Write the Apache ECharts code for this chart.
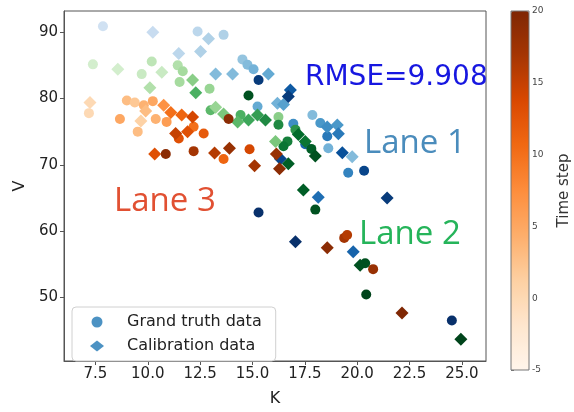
<!DOCTYPE html>
<html>
<head>
<meta charset="utf-8">
<script src="https://cdn.jsdelivr.net/npm/echarts@6/dist/echarts.min.js"></script>
<style>
  html, body { margin: 0; padding: 0; background: #ffffff; }
  #chart { width: 574px; height: 412px; }
</style>
</head>
<body>
<div id="chart"></div>
<script>
// Each point: [K, V, time step]
const lane1Truth = [
  [7.86, 90.9, 0], [12.38, 90.1, 2], [13.62, 89.6, 3], [14.52, 85.9, 5],
  [14.76, 85.1, 6], [15.05, 84.4, 7], [15.24, 78.8, 8], [17.86, 77.5, 6],
  [18.24, 76.3, 10], [16.95, 76.2, 11], [18.62, 72.5, 7], [18.57, 74.3, 13],
  [17.52, 73.1, 15], [19.57, 68.8, 12], [20.33, 69.1, 18], [15.29, 82.8, 19],
  [15.29, 62.8, 20], [24.52, 46.5, 20]
];
const lane1Calib = [
  [10.24, 90.0, 1], [11.48, 86.8, 2], [12.52, 87.1, 3], [12.9, 89.0, 3],
  [13.24, 83.7, 6], [14.05, 83.7, 6], [15.76, 83.7, 8], [16.19, 79.3, 7],
  [16.48, 79.1, 9], [16.81, 81.3, 16], [16.71, 80.3, 19], [18.57, 75.7, 11],
  [19.05, 76.0, 10], [19.1, 74.7, 13], [19.29, 71.8, 17], [19.76, 71.2, 6],
  [16.33, 70.9, 18], [18.14, 65.1, 14], [21.43, 65.0, 19], [17.05, 58.4, 20],
  [19.81, 56.9, 15]
];
const lane2Truth = [
  [7.38, 85.15, 0], [9.71, 83.68, 1], [10.19, 85.59, 2], [11.43, 85.0, 3],
  [11.52, 82.5, 4], [11.67, 84.1, 4], [12.95, 81.47, 5], [13.0, 78.24, 9],
  [14.43, 77.5, 10], [16.24, 77.2, 6], [17.05, 75.3, 13], [16.24, 76.03, 14],
  [16.67, 73.53, 15], [16.48, 72.8, 16], [17.81, 72.4, 18], [14.81, 80.44, 19],
  [18.0, 63.24, 19], [20.38, 55.15, 19], [20.43, 50.44, 20]
];
const lane2Calib = [
  [8.57, 84.41, 0], [10.67, 83.97, 1], [10.1, 81.62, 3], [12.14, 82.79, 6],
  [12.29, 80.88, 10], [13.24, 78.68, 5], [13.62, 77.65, 7], [14.29, 76.47, 9],
  [14.81, 76.76, 11], [15.24, 77.5, 12], [15.62, 76.76, 14], [16.1, 73.53, 7],
  [17.19, 74.56, 17], [17.52, 73.53, 16], [18.0, 71.32, 19], [16.71, 70.15, 18],
  [17.43, 66.18, 18], [20.14, 54.85, 19], [24.95, 43.68, 20]
];
const lane3Truth = [
  [7.19, 77.79, 0], [9.0, 79.71, 3], [9.38, 79.41, 2], [9.81, 78.97, 4],
  [10.24, 79.6, 5], [8.67, 76.91, 5], [9.52, 75.0, 3], [10.38, 76.91, 4],
  [10.9, 76.47, 6], [11.48, 73.97, 13], [12.19, 75.74, 10], [12.67, 74.71, 12],
  [13.62, 70.88, 11], [13.86, 76.91, 19], [10.86, 71.62, 19], [12.19, 72.06, 17],
  [14.86, 72.35, 14], [19.38, 58.97, 17], [19.52, 59.4, 16], [20.76, 54.26, 18]
];
const lane3Calib = [
  [7.24, 79.41, 0], [9.67, 76.62, 1], [9.9, 78.1, 3], [10.76, 78.97, 7],
  [11.1, 77.9, 10], [11.62, 77.5, 11], [12.14, 77.2, 14], [11.33, 74.71, 15],
  [11.9, 75.0, 13], [10.33, 71.62, 13], [13.19, 71.76, 16], [13.9, 72.5, 18],
  [15.1, 69.85, 17], [16.14, 71.62, 18], [16.29, 69.41, 19], [18.57, 57.5, 19],
  [22.14, 47.65, 20]
];
const xTicks = [7.5, 10, 12.5, 15, 17.5, 20, 22.5, 25];
const yTicks = [50, 60, 70, 80, 90];
const timeRange = [-5, 20];
const rmseText = 'RMSE=9.908';
const laneLabels = ['Lane 1', 'Lane 2', 'Lane 3'];

// Sequential colour ramps (light to dark)
const BLUES = ['#f7fbff', '#deebf7', '#c6dbef', '#9ecae1', '#6baed6', '#4292c6', '#2171b5', '#08519c', '#08306b'];
const GREENS = ['#f7fcf5', '#e5f5e0', '#c7e9c0', '#a1d99b', '#74c476', '#41ab5d', '#238b45', '#006d2c', '#00441b'];
const ORANGES = ['#fff5eb', '#fee6ce', '#fdd0a2', '#fdae6b', '#fd8d3c', '#f16913', '#d94801', '#a63603', '#7f2704'];

const FONT = 'DejaVu Sans';
const chart = echarts.init(document.getElementById('chart'), null, { renderer: 'canvas' });

function scatter(name, data, symbol, size) {
  return {
    type: 'scatter', name: name, data: data, symbol: symbol, symbolSize: size,
    encode: { x: 0, y: 1 }, xAxisIndex: 0, yAxisIndex: 0,
    itemStyle: { opacity: 1 }, emphasis: { disabled: true }
  };
}

const option = {
  animation: false,
  backgroundColor: '#ffffff',
  textStyle: { fontFamily: FONT },
  grid: [
    { left: 64, top: 11, width: 422, height: 359, show: true, borderColor: '#555', borderWidth: 1, backgroundColor: 'transparent' },
    { left: 511, top: 11, width: 18, height: 359, show: true, borderColor: '#777', borderWidth: 1, backgroundColor: 'transparent', z: 10 }
  ],
  xAxis: [
    {
      type: 'value', gridIndex: 0, min: 6.0, max: 26.15,
      name: 'K', nameLocation: 'middle', nameGap: 30,
      nameTextStyle: { fontSize: 16, color: '#222', fontFamily: FONT },
      axisLine: { show: true, lineStyle: { color: '#555' } },
      axisTick: { show: true, length: 4, customValues: xTicks, lineStyle: { color: '#555' } },
      axisLabel: { customValues: xTicks, formatter: v => v.toFixed(1), fontSize: 15, color: '#222', margin: 6, fontFamily: FONT },
      splitLine: { show: false }
    },
    { type: 'value', gridIndex: 1, min: 0, max: 1, show: false }
  ],
  yAxis: [
    {
      type: 'value', gridIndex: 0, min: 40.4, max: 93.2,
      name: 'V', nameLocation: 'middle', nameGap: 34, nameRotate: 90,
      nameTextStyle: { fontSize: 16, color: '#222', fontFamily: FONT },
      axisLine: { show: true, lineStyle: { color: '#555' } },
      axisTick: { show: true, length: 4, customValues: yTicks, lineStyle: { color: '#555' } },
      axisLabel: { customValues: yTicks, fontSize: 15, color: '#222', margin: 6, fontFamily: FONT },
      splitLine: { show: false }
    },
    {
      type: 'value', gridIndex: 1, min: timeRange[0], max: timeRange[1], interval: 5, position: 'right',
      name: 'Time step', nameLocation: 'middle', nameGap: 28, nameRotate: 90,
      nameTextStyle: { fontSize: 15, color: '#333', fontFamily: FONT },
      axisLine: { show: false },
      axisTick: { show: true, length: 3, lineStyle: { color: '#777' } },
      axisLabel: { fontSize: 9, color: '#444', margin: 3, fontFamily: FONT },
      splitLine: { show: false }
    }
  ],
  visualMap: [
    { type: 'continuous', seriesIndex: [0, 1], dimension: 2, min: timeRange[0], max: timeRange[1], inRange: { color: BLUES }, show: false },
    { type: 'continuous', seriesIndex: [2, 3], dimension: 2, min: timeRange[0], max: timeRange[1], inRange: { color: GREENS }, show: false },
    {
      type: 'continuous', seriesIndex: [4, 5], dimension: 2, min: timeRange[0], max: timeRange[1], inRange: { color: ORANGES },
      show: true, calculable: false, hoverLink: false, orient: 'vertical',
      left: 511, top: 11, itemWidth: 18, itemHeight: 359, padding: 0, text: null
    }
  ],
  legend: {
    left: 72, top: 307, orient: 'vertical',
    padding: [7, 14, 7, 18], itemGap: 8, itemWidth: 14, itemHeight: 11,
    borderColor: '#d0d0d0', borderWidth: 1, borderRadius: 4, backgroundColor: 'rgba(255,255,255,0.85)',
    textStyle: { fontSize: 16, color: '#222', fontFamily: FONT, padding: [0, 0, 0, 18] },
    data: [{ name: 'Grand truth data', icon: 'circle' }, { name: 'Calibration data', icon: 'diamond' }],
    selectedMode: false
  },
  graphic: [
    { type: 'text', x: 305, y: 78, style: { text: rmseText, font: '28px "DejaVu Sans"', fill: '#1717e0', verticalAlign: 'middle' } },
    { type: 'text', x: 364, y: 144, style: { text: laneLabels[0], font: '33px "Open Sans"', fill: '#4a8cbc', verticalAlign: 'middle' } },
    { type: 'text', x: 359, y: 235, style: { text: laneLabels[1], font: '33px "Open Sans"', fill: '#25b45a', verticalAlign: 'middle' } },
    { type: 'text', x: 114, y: 202, style: { text: laneLabels[2], font: '33px "Open Sans"', fill: '#e15032', verticalAlign: 'middle' } }
  ],
  series: [
    scatter('lane1-truth', lane1Truth, 'circle', 10),
    scatter('lane1-calib', lane1Calib, 'diamond', 13),
    scatter('lane2-truth', lane2Truth, 'circle', 10),
    scatter('lane2-calib', lane2Calib, 'diamond', 13),
    scatter('lane3-truth', lane3Truth, 'circle', 10),
    scatter('lane3-calib', lane3Calib, 'diamond', 13),
    { type: 'scatter', name: 'Grand truth data', symbol: 'circle', data: [], itemStyle: { color: '#1f77b4' } },
    { type: 'scatter', name: 'Calibration data', symbol: 'diamond', data: [], itemStyle: { color: '#1f77b4' } }
  ]
};
chart.setOption(option);
</script>
</body>
</html>
